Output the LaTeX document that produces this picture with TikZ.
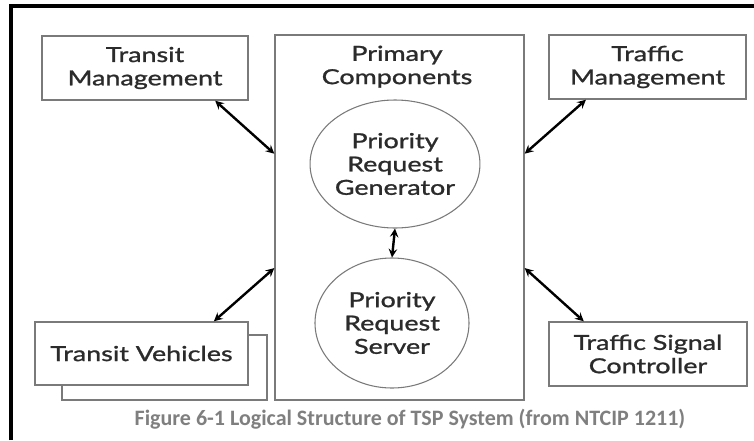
\documentclass[tikz,border=0pt]{standalone}
\usepackage{fontspec}
\usetikzlibrary{shapes.geometric}
\newfontfamily\gillfont[FakeStretch=1.3, FakeBold=1.2]{Lato}
\newfontfamily\capfont{Carlito}
\definecolor{boxgray}{HTML}{7A7A7A}
\definecolor{txtgray}{HTML}{2B2B2B}
\definecolor{capgray}{HTML}{7F7F7F}
\begin{document}
\begin{tikzpicture}[x=0.75pt, y=-0.75pt, >=stealth,
		every node/.style={font=\gillfont\fontsize{15.5}{17.5}\selectfont, text=txtgray, align=center},
		unit/.style={draw=boxgray, line width=1.1pt, fill=white, inner sep=0pt},
		part/.style={ellipse, draw=boxgray, line width=0.8pt, inner sep=0pt},
		link/.style={<->, line width=1.8pt}]
		\useasboundingbox (0,0) rectangle (754,440);
		% frame
		\draw[line width=3pt] (10.5,440) -- (10.5,5.5) -- (754,5.5);
		% centre block
		\node[unit, minimum width=249*0.75pt, minimum height=365*0.75pt] (prim) at (399.5,217.5) {};
		\node[anchor=north] (primtitle) at (397,41) {Primary\\Components};
		\node[part, minimum width=154*0.75pt, minimum height=128*0.75pt] (prg) at (395,164) {Priority\\Request\\Generator};
		\node[part, minimum width=154*0.75pt, minimum height=130*0.75pt] (prs) at (392,323) {Priority\\Request\\Server};
		\draw[link] (prg.south) -- (prs.north);
		% outer boxes
		\node[unit, minimum width=206*0.75pt, minimum height=64*0.75pt] (tm) at (145,68) {Transit\\Management};
		\node[unit, minimum width=197*0.75pt, minimum height=64*0.75pt] (trm) at (647.5,67) {Traffic\\Management};
		\node[unit, minimum width=205*0.75pt, minimum height=65*0.75pt] (tvback) at (164.5,367.5) {};
		\node[unit, minimum width=213*0.75pt, minimum height=63*0.75pt] (tv) at (141.5,353.5) {Transit Vehicles};
		\node[unit, minimum width=198*0.75pt, minimum height=64*0.75pt] (tsc) at (648,354) {Traffic Signal\\Controller};
		% links to the centre block
		\draw[link] (tm.-25) -- (prim.153);
		\draw[link] (trm.-152) -- (prim.27);
		\draw[link] (tv.24) -- (prim.202);
		\draw[link] (tsc.153) -- (prim.-22);
		\node[font=\capfont\bfseries\fontsize{16.5}{19}\selectfont, text=capgray] (caption) at (410,419) {Figure 6-1 Logical Structure of TSP System (from NTCIP 1211)};
	\end{tikzpicture}
\end{document}
